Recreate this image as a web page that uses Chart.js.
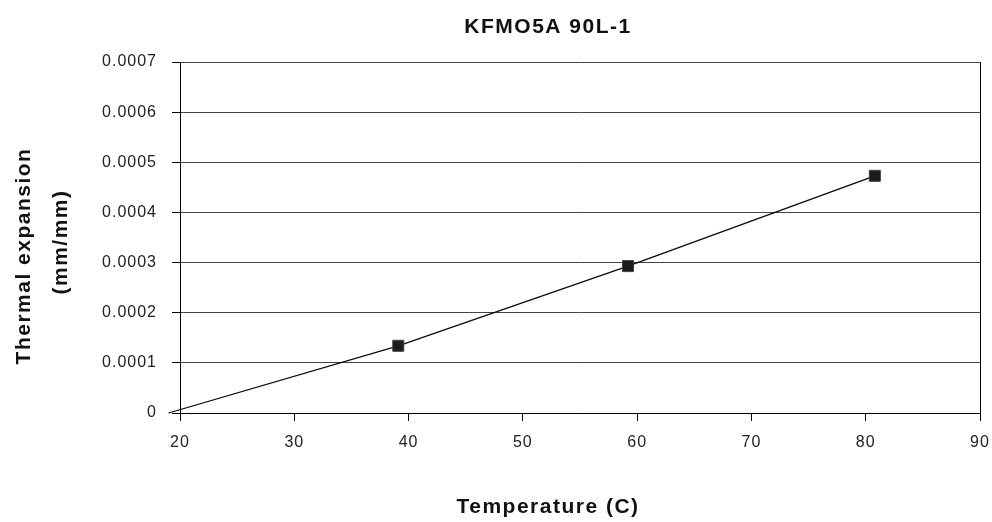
<!DOCTYPE html>
<html lang="en">
<head>
    <meta charset="UTF-8">
    <title>KFMO5A 90L-1</title>
    <script src="https://cdn.jsdelivr.net/npm/chart.js"></script>
    <style>
        body {
            margin: 0;
            background-color: #ffffff;
        }
        .chart-box {
            width: 992px;
            height: 522px;
        }
    </style>
</head>
<body>
    <div class="chart-box">
        <canvas id="expansionChart"></canvas>
    </div>
    <script>
        // Datos
        const chartTitle = "KFMO5A 90L-1";
        const xTitle = "Temperature (C)";
        const yTitle = ["Thermal expansion", "(mm/mm)"];

        const temperaturas = [19, 39.1, 59.2, 80.8];
        const expansion = [0, 0.000134, 0.000293, 0.000473];
        const radios = [0, 7.8, 7.8, 7.8];   // el primer punto no lleva marcador

        const xTicks = [20, 30, 40, 50, 60, 70, 80, 90];
        const yTicks = [0, 0.0001, 0.0002, 0.0003, 0.0004, 0.0005, 0.0006, 0.0007];

        const FONT = "'Liberation Sans', Arial, sans-serif";

        // Títulos dibujados a mano (el original no los centra en el área del gráfico)
        const titulos = {
            id: 'titulos',
            beforeDraw(chart) {
                chart.ctx.letterSpacing = '1px';
            },
            afterDraw(chart) {
                const ctx = chart.ctx;
                ctx.save();
                ctx.fillStyle = '#111';
                ctx.font = 'bold 21px ' + FONT;
                ctx.letterSpacing = '1.5px';
                ctx.textAlign = 'center';
                ctx.textBaseline = 'alphabetic';
                ctx.fillText(chartTitle, 548, 33);
                ctx.fillText(xTitle, 548, 513);

                ctx.save();
                ctx.translate(30, 256);
                ctx.rotate(-Math.PI / 2);
                ctx.fillText(yTitle[0], 0, 0);
                ctx.restore();

                ctx.save();
                ctx.translate(67, 242);
                ctx.rotate(-Math.PI / 2);
                ctx.fillText(yTitle[1], 0, 0);
                ctx.restore();

                ctx.restore();
                ctx.letterSpacing = '0px';
            }
        };

        const ctx = document.getElementById('expansionChart').getContext('2d');
        new Chart(ctx, {
            type: 'scatter',
            data: {
                datasets: [{
                    label: 'KFMO5A 90L-1',
                    data: temperaturas.map((t, i) => ({ x: t, y: expansion[i] })),
                    showLine: true,
                    tension: 0,
                    borderColor: '#0a0a0a',
                    borderWidth: 1.3,
                    pointStyle: 'rect',
                    pointRadius: radios,
                    pointHoverRadius: radios,
                    pointBackgroundColor: '#1c1c1c',
                    pointBorderColor: '#444',
                    pointBorderWidth: 1,
                    clip: false
                }]
            },
            options: {
                responsive: true,
                maintainAspectRatio: false,
                animation: false,
                layout: {
                    padding: { top: 62, right: 12, bottom: 0, left: 0 }
                },
                plugins: {
                    legend: { display: false },
                    tooltip: { enabled: false },
                    title: { display: false }
                },
                scales: {
                    x: {
                        type: 'linear',
                        min: xTicks[0],
                        max: xTicks[xTicks.length - 1],
                        afterBuildTicks: s => { s.ticks = xTicks.map(v => ({ value: v })); },
                        afterFit: s => {
                            s.height = 109;
                            s.paddingLeft = 0;
                            s.paddingRight = 0;
                        },
                        grid: {
                            drawOnChartArea: true,
                            color: c => (c.tick && c.tick.value === xTicks[xTicks.length - 1]) ? '#000' : 'rgba(0,0,0,0)',
                            tickColor: '#000',
                            tickLength: 8,
                            lineWidth: 1
                        },
                        border: { color: '#000', width: 1 },
                        ticks: {
                            color: '#222',
                            padding: 12,
                            maxRotation: 0,
                            font: { family: FONT, size: 16 }
                        }
                    },
                    y: {
                        min: yTicks[0],
                        max: yTicks[yTicks.length - 1],
                        afterBuildTicks: s => { s.ticks = yTicks.map(v => ({ value: v })); },
                        afterFit: s => { s.width = 180; },
                        grid: {
                            color: '#444',
                            tickColor: '#000',
                            tickLength: 8,
                            lineWidth: 1
                        },
                        border: { color: '#000', width: 1 },
                        ticks: {
                            color: '#222',
                            padding: 15,
                            font: { family: FONT, size: 16 },
                            callback: v => v === 0 ? '0' : v.toFixed(4)
                        }
                    }
                }
            },
            plugins: [titulos]
        });
    </script>
</body>
</html>
